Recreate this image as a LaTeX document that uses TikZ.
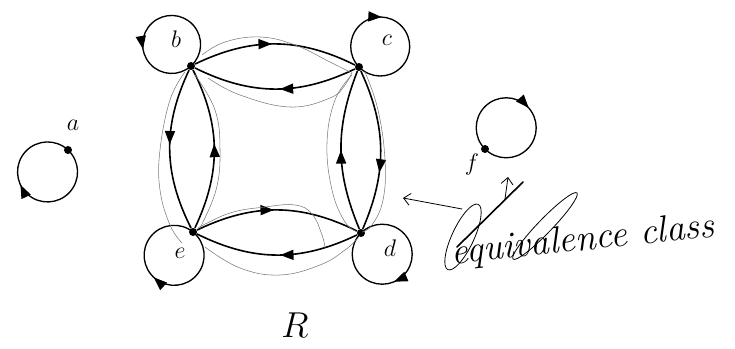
\RequirePackage{fix-cm}
\documentclass[tikz,border=0pt]{standalone}
\usetikzlibrary{arrows.meta,calc,decorations.markings,positioning}
\definecolor{fg}{RGB}{0,0,0}
\definecolor{pen}{RGB}{120,120,120}
\definecolor{bg}{RGB}{255,255,255}
\tikzset{
  every picture/.style={fg, line width=1pt, line cap=round, line join=round},
  % Relation: Pfeil in der Mitte
  rel/.style={line width=1.2pt, postaction={decorate},
    decoration={markings, mark=at position #1 with {\arrow{Triangle[length=10pt,width=7.5pt]}}}},
  rel/.default=0.5,
  selfrel/.style={line width=1pt, postaction={decorate},
    decoration={markings, mark=at position #1 with {\arrow{Triangle[length=10pt,width=7.5pt]}}}},
  % Handschrift
  hand/.style={pen, line width=0.4pt},
  ink/.style={fg, line width=0.6pt},
  dot/.style={circle, fill=fg, inner sep=0pt, minimum size=6pt},
  lbl/.style={font=\fontsize{18}{20}\selectfont},
}
\begin{document}
\begin{tikzpicture}[x=0.75pt, y=0.75pt]
  \useasboundingbox (0,0) rectangle (735,349);
  % Elemente
  \node[dot] (a) at (68,199) {};
  \node[dot] (b) at (191,283) {};
  \node[dot] (c) at (359,282) {};
  \node[dot] (d) at (361,116) {};
  \node[dot] (e) at (193,117) {};
  \node[dot] (f) at (485,200) {};
  \node[lbl] (la) at (73,224) {$a$};
  \node[lbl] (lb) at (176,310) {$b$};
  \node[lbl] (lc) at (387,309) {$c$};
  \node[lbl] (ld) at (390,101) {$d$};
  \node[lbl] (le) at (180,96) {$e$};
  \node[lbl] (lf) at (472,184) {$f$};
  \node[font=\fontsize{27}{30}\selectfont] (lR) at (295,24) {$R$};
  % Schleifen (reflexiv)
  \draw[selfrel=0.66] (b.center) arc[start angle=-48, delta angle=360, radius=29];
  \draw[selfrel=0.38] (c.center) arc[start angle=224, delta angle=-360, radius=29.5];
  \draw[selfrel=0.56] (d.center) arc[start angle=135, delta angle=-360, radius=30];
  \draw[selfrel=0.51] (e.center) arc[start angle=51, delta angle=-360, radius=30];
  \draw[selfrel=0.56] (a.center) arc[start angle=47, delta angle=-360, radius=30];
  \draw[selfrel=0.51] (f.center) arc[start angle=225, delta angle=-360, radius=30];
  % Paare in beide Richtungen
  \draw[rel=0.48] (b) to[bend left=26] (c);
  \draw[rel=0.47] (c) to[bend left=26] (b);
  \draw[rel=0.47] (b) to[bend right=26] (e);
  \draw[rel=0.53] (e) to[bend right=26] (b);
  \draw[rel=0.64] (c) to[bend left=24] (d);
  \draw[rel=0.5] (d) to[bend left=22] (c);
  \draw[rel=0.48] (e) to[bend left=26] (d);
  \draw[rel=0.48] (d) to[bend left=26] (e);
  % Bleistift-Linien um die Klasse
  \draw[hand] plot[smooth, tension=0.7] coordinates {(202,294) (225,307) (260,312) (295,304) (330,287) (350,277)};
  \draw[hand] plot[smooth, tension=0.7] coordinates {(208,271) (240,254) (290,242) (330,251) (345,264) (352,277)};
  \draw[hand] plot[smooth, tension=0.7] coordinates {(185,277) (170,249) (160,199) (160,159) (170,124) (182,106)};
  \draw[hand] plot[smooth, tension=0.7] coordinates {(195,274) (215,239) (220,199) (216,159) (200,121)};
  \draw[hand] plot[smooth, tension=0.7] coordinates {(352,274) (335,249) (327,206) (332,159) (345,127) (358,117)};
  \draw[hand] plot[smooth, tension=0.7] coordinates {(365,277) (378,239) (385,189) (383,149) (372,124) (362,117)};
  \draw[hand] plot[smooth, tension=0.7] coordinates {(198,121) (230,136) (265,142) (295,144) (312,135) (322,114) (325,101)};
  \draw[hand] plot[smooth, tension=0.7] coordinates {(205,102) (240,81) (280,74) (320,84) (345,99) (358,111)};
  % Notiz
  \node[rotate=6, font=\fontsize{28}{30}\selectfont\itshape] (eqlbl) at (583,108) {equivalence class};
  \coordinate (eqtip) at (403,151);
  \coordinate (eqtail) at (462,140);
  \coordinate (uptail) at (505,150);
  \coordinate (uptip) at (508,172);
  \draw[ink, -{Straight Barb[length=5pt,width=9pt]}] (eqtail) -- (eqtip);
  \draw[ink, -{Straight Barb[length=5pt,width=9pt]}] (uptail) -- (uptip);
  \draw[ink, rotate around={65:(463,112)}] (463,112) ellipse[x radius=36, y radius=11];
  \draw[ink, rotate around={46:(545,123)}] (545,123) ellipse[x radius=46, y radius=7];
  \draw[ink, line width=1.2pt] (457,102) -- (523,167);
\end{tikzpicture}
\end{document}
